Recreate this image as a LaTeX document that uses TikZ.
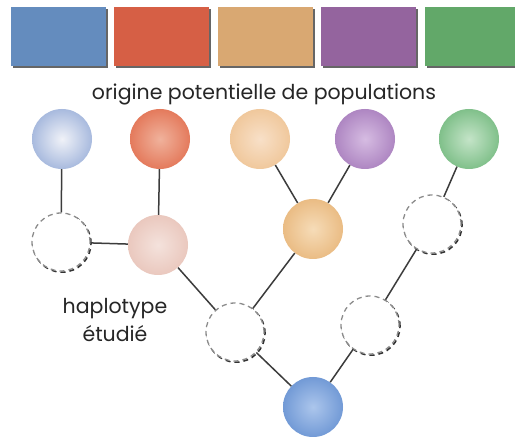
\documentclass[tikz,border=0pt]{standalone}
\usepackage{fontspec}
\setmainfont{Poppins}
\usetikzlibrary{shadows}
\definecolor{boxblue}{RGB}{100,140,190}
\definecolor{boxred}{RGB}{214,95,69}
\definecolor{boxorange}{RGB}{217,168,114}
\definecolor{boxpurple}{RGB}{148,100,158}
\definecolor{boxgreen}{RGB}{98,168,105}
\definecolor{linkgray}{RGB}{60,60,60}
% ball shading colours: inner / outer
\definecolor{blueIn}{RGB}{240,242,248}
\definecolor{blueOut}{RGB}{168,186,222}
\definecolor{redIn}{RGB}{240,178,156}
\definecolor{redOut}{RGB}{228,122,92}
\definecolor{orangeIn}{RGB}{248,224,200}
\definecolor{orangeOut}{RGB}{240,200,156}
\definecolor{purpleIn}{RGB}{214,188,226}
\definecolor{purpleOut}{RGB}{174,134,194}
\definecolor{greenIn}{RGB}{196,228,200}
\definecolor{greenOut}{RGB}{128,192,138}
\definecolor{pinkIn}{RGB}{244,226,220}
\definecolor{pinkOut}{RGB}{234,200,190}
\definecolor{apricotIn}{RGB}{246,220,184}
\definecolor{apricotOut}{RGB}{234,188,132}
\definecolor{deepIn}{RGB}{172,198,236}
\definecolor{deepOut}{RGB}{114,154,214}
\begin{document}
\begin{tikzpicture}[x=1pt,y=-1pt,
  popbox/.style={rectangle, minimum width=95pt, minimum height=59pt, inner sep=0pt,
    fill=#1, drop shadow={shadow xshift=2pt, shadow yshift=-2.5pt, opacity=0.8, fill=black!75}},
  ball/.style={circle, minimum size=60pt, inner sep=0pt, shade,
    inner color=#1In, outer color=#1Out},
  ancestor/.style={circle, minimum size=58pt, inner sep=0pt, fill=white,
    draw=black!45, line width=1.3pt, dash pattern=on 5pt off 4pt,
    preaction={draw=black!80, line width=1.6pt, dash pattern=on 5pt off 4pt,
      transform canvas={shift={(1pt,-1.2pt)}}}},
  link/.style={draw=linkgray, line width=1.5pt},
  txt/.style={font=\fontsize{20.5}{28}\selectfont, text=black!85, align=center}
]
\useasboundingbox (0,0) rectangle (515,438);
\fill[white] (0,0) rectangle (515,438);

% source populations
\node[popbox=boxblue]   (c1) at (58,36.5)  {};
\node[popbox=boxred]    (c2) at (161.5,36.5) {};
\node[popbox=boxorange] (c3) at (265,36.5) {};
\node[popbox=boxpurple] (c4) at (368.5,36.5) {};
\node[popbox=boxgreen]  (c5) at (472.5,36.5) {};

\node[txt] (title) at (264,94) {origine potentielle de populations};

% haplotype network
\node[ball=blue]   (b1) at (62,139) {};
\node[ball=red]    (r1) at (160,139) {};
\node[ball=orange] (o1) at (260,139) {};
\node[ball=purple] (p1) at (365,139) {};
\node[ball=green]  (g1) at (469,139) {};

\node[ancestor] (d1) at (61,242) {};
\node[ball=pink]    (pk) at (158,245) {};
\node[ball=apricot] (om) at (313,229) {};
\node[ancestor] (d2) at (432,224) {};

\node[ancestor] (d3) at (235,332) {};
\node[ancestor] (d4) at (370,325) {};

\node[ball=deep] (bb) at (313,407) {};

\node[txt] (hap) at (115,320) {haplotype\\étudié};

% links between haplotypes
\path[link] (b1) -- (d1);
\path[link] (r1) -- (pk);
\path[link] (d1) -- (pk);
\path[link] (pk) -- (d3);
\path[link] (o1) -- (om);
\path[link] (p1) -- (om);
\path[link] (om) -- (d3);
\path[link] (d3) -- (bb);
\path[link] (g1) -- (d2);
\path[link] (d2) -- (d4);
\path[link] (d4) -- (bb);
\end{tikzpicture}
\end{document}
